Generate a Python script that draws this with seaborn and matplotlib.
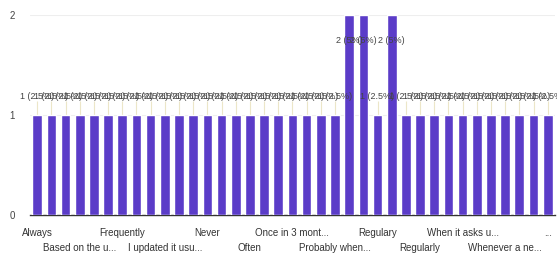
import pandas as pd
import numpy as np
import matplotlib
matplotlib.use('Agg')
import matplotlib.pyplot as plt
import seaborn as sns

# Response categories (only every third name is readable in the chart)
categories = [
    'Always', 'As needed', 'Automatically', 'Based on the u...', 'Daily',
    'Every month', 'Frequently', 'Hardly ever', "I don't", 'I updated it usu...',
    'Monthly', 'Mostly', 'Never', 'Not often', 'Occasionally', 'Often',
    'Once a month', 'Once a year', 'Once in 3 mont...', 'Only when...',
    'Periodically', 'Probably when...', 'Rarely', 'Really often', 'Regulary',
    'Regulary updated', 'Regularly upd', 'Regularly', 'Sometimes', 'Very often',
    'When it asks u...', 'When needed', 'When prompted', 'Whenever a ne...',
    'Weekly', 'Yearly', '...',
]
counts = [1, 1, 1, 1, 1, 1, 1, 1, 1, 1, 1, 1, 1, 1, 1, 1, 1, 1, 1, 1, 1, 1,
          2, 2, 1, 2, 1, 1, 1, 1, 1, 1, 1, 1, 1, 1, 1]
yticks = [0, 1, 2]

df = pd.DataFrame({'answer': categories, 'count': counts})
total = sum(counts)

sns.set_style('white')
plt.rcParams['font.family'] = ['Liberation Sans', 'DejaVu Sans']

fig = plt.figure(figsize=(5.57, 2.6), dpi=100)
ax = fig.add_axes([0.054, 0.173, 0.942, 0.769])

sns.barplot(data=df, x='answer', y='count', color='#5b3cc8', saturation=1,
            width=0.68, ax=ax, zorder=3)

# value labels with thin leader lines
for i, c in enumerate(counts):
    pct = c / total * 100
    txt = f'{c} ({pct:g}%)'
    ly = 1.14 if c == 1 else 1.7
    ax.text(i, ly, txt, ha='center', va='bottom', fontsize=6.5, color='#444444',
            zorder=5, clip_on=False)
    if c == 1:
        ax.vlines(i, c, ly, color='#ece6c8', lw=0.8, zorder=2)

ax.set_ylim(0, 2)
ax.set_xlim(-0.5, len(categories) - 0.5)
ax.set_yticks(yticks)
ax.set_yticklabels([str(t) for t in yticks], fontsize=7, color='#444444')
ax.yaxis.grid(True, color='#eeeeee', lw=0.8, zorder=0)
ax.tick_params(axis='y', length=0, pad=11)

# every third category is labelled, alternating between two rows
top_pos = list(range(0, len(categories), 6))
low_pos = list(range(3, len(categories), 6))
ax.set_xticks(top_pos)
ax.set_xticklabels([categories[p] for p in top_pos], fontsize=7, color='#333333')
ax.set_xticks(low_pos, minor=True)
ax.set_xticklabels([categories[p] for p in low_pos], minor=True, fontsize=7,
                   color='#333333')
ax.tick_params(axis='x', which='major', length=0, pad=9)
ax.tick_params(axis='x', which='minor', length=0, pad=20)

ax.set_xlabel('')
ax.set_ylabel('')
sns.despine(ax=ax, left=True)
ax.spines['bottom'].set_color('#333333')
ax.spines['bottom'].set_linewidth(1)

fig.savefig('out.png', dpi=100)
